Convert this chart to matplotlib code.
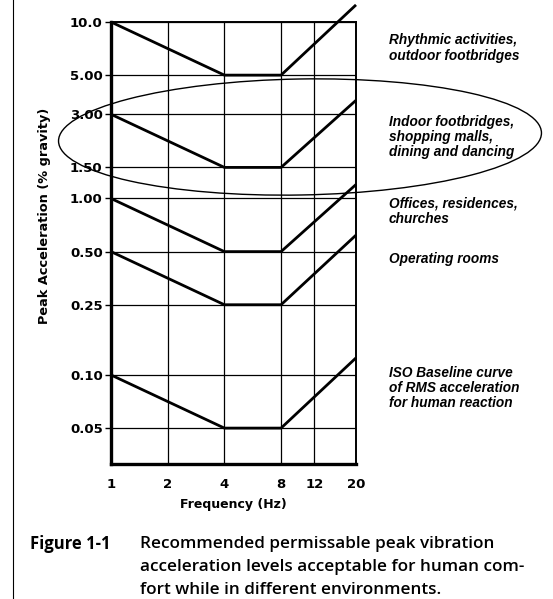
import matplotlib.pyplot as plt
from matplotlib.patches import Ellipse
from matplotlib.lines import Line2D
from matplotlib.ticker import FixedLocator, NullLocator, FixedFormatter

# частоты излома кривых (Гц)
freq = [1, 4, 8, 20]

# пиковое ускорение (% g) для каждой среды
rhythmic = [10.0, 5.0, 5.0, 12.5]
indoor = [3.0, 1.5, 1.5, 3.6]
offices = [1.0, 0.5, 0.5, 1.2]
operating = [0.5, 0.25, 0.25, 0.62]
iso_base = [0.1, 0.05, 0.05, 0.125]

# подписи осей
x_ticks = [1, 2, 4, 8, 12, 20]
x_labels = ['1', '2', '4', '8', '12', '20']
y_ticks = [10.0, 5.0, 3.0, 1.5, 1.0, 0.5, 0.25, 0.1, 0.05]
y_labels = ['10.0', '5.00', '3.00', '1.50', '1.00', '0.50', '0.25', '0.10', '0.05']

# подписи сред справа: (текст, центр по y в пикселях)
env_labels = [
    ('Rhythmic activities,\noutdoor footbridges', 48),
    ('Indoor footbridges,\nshopping malls,\ndining and dancing', 137),
    ('Offices, residences,\nchurches', 211),
    ('Operating rooms', 259),
    ('ISO Baseline curve\nof RMS acceleration\nfor human reaction', 388),
]

# подпись рисунка построчно
caption = ['Recommended permissable peak vibration',
           'acceleration levels acceptable for human com-',
           'fort while in different environments.']

W, H = 553, 599
fig = plt.figure(figsize=(W / 100, H / 100), dpi=100)
ax = fig.add_axes([111 / W, 1 - 464 / H, 245 / W, 442 / H])

ax.set_xscale('log')
ax.set_yscale('log')
ax.set_xlim(1, 20)
ax.set_ylim(0.0313, 10)

for vals in [rhythmic, indoor, offices, operating, iso_base]:
    ax.plot(freq, vals, color='black', lw=2.0, clip_on=False,
            solid_capstyle='butt', zorder=3)

ax.xaxis.set_major_locator(FixedLocator(x_ticks))
ax.xaxis.set_major_formatter(FixedFormatter(x_labels))
ax.xaxis.set_minor_locator(NullLocator())
ax.yaxis.set_major_locator(FixedLocator(y_ticks))
ax.yaxis.set_major_formatter(FixedFormatter(y_labels))
ax.yaxis.set_minor_locator(NullLocator())

ax.grid(True, color='black', lw=0.9)
ax.tick_params(axis='x', length=0, pad=10, labelsize=9.5)
ax.tick_params(axis='y', length=4, width=1, pad=2, labelsize=9.5)
for lab in ax.get_xticklabels() + ax.get_yticklabels():
    lab.set_fontweight('bold')
    lab.set_family('DejaVu Sans')

ax.spines['left'].set_linewidth(2.4)
ax.spines['bottom'].set_linewidth(2.4)
ax.spines['top'].set_linewidth(1.4)
ax.spines['right'].set_linewidth(1.4)

ax.set_xlabel('Frequency (Hz)', fontsize=9, fontweight='bold',
              family='DejaVu Sans', labelpad=5)
fig.text(45 / W, 1 - 216 / H, 'Peak Acceleration (% gravity)', rotation=90,
         ha='center', va='center', fontsize=9.3, fontweight='bold',
         family='DejaVu Sans')

for txt, yc in env_labels:
    fig.text(389 / W, 1 - yc / H, txt, ha='left', va='center',
             fontsize=9.8, fontweight='bold', style='italic',
             family='Liberation Sans', linespacing=1.12)

# эллипс вокруг зоны торговых центров
ell = Ellipse((3.0, (H - 137) / 100), 4.83, 1.16, angle=1.0,
              transform=fig.dpi_scale_trans, fill=False,
              edgecolor='black', lw=1.0)
fig.add_artist(ell)

# вертикальная линия края страницы
fig.add_artist(Line2D([13 / W, 13 / W], [0, 1], color='black', lw=0.8))

fig.text(30 / W, 1 - 544 / H, 'Figure 1-1', ha='left', va='center',
         fontsize=12, fontweight='bold', family='Open Sans')
for i, line in enumerate(caption):
    fig.text(140 / W, 1 - (544 + 23 * i) / H, line, ha='left', va='center',
             fontsize=12.3, family='Open Sans', fontweight='semibold')

fig.savefig('out.png', dpi=100)
